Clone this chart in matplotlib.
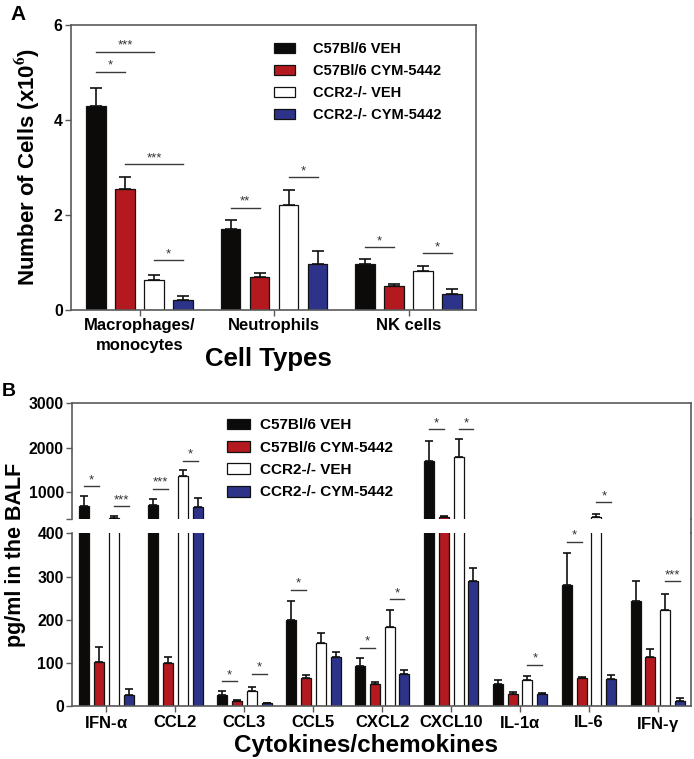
import numpy as np
import matplotlib.pyplot as plt
from matplotlib.patches import Patch
from matplotlib.lines import Line2D

plt.rcParams['font.family'] = ['Liberation Sans', 'DejaVu Sans']
plt.rcParams['font.weight'] = 'bold'
plt.rcParams['mathtext.fontset'] = 'stix'
plt.rcParams['mathtext.default'] = 'regular'

# groups / series
series = ['C57Bl/6 VEH', 'C57Bl/6 CYM-5442', 'CCR2-/- VEH', 'CCR2-/- CYM-5442']
colors = ['#0d0b09', '#b3191e', '#ffffff', '#2d3389']

# Panel A: cell counts (x10^6), mean and upper error
cell_types = ['Macrophages/\nmonocytes', 'Neutrophils', 'NK cells']
veh_a = [4.29, 1.71, 0.96]
cym_a = [2.55, 0.69, 0.50]
ccr2_veh_a = [0.63, 2.20, 0.83]
ccr2_cym_a = [0.22, 0.96, 0.34]
veh_a_err = [0.39, 0.18, 0.11]
cym_a_err = [0.26, 0.09, 0.05]
ccr2_veh_a_err = [0.11, 0.33, 0.09]
ccr2_cym_a_err = [0.07, 0.28, 0.10]

# significance for A: (group, bar i, bar j, height, label)
sig_a = [(0, 0, 1, 5.02, '*'), (0, 0, 2, 5.44, '***'), (0, 1, 3, 3.07, '***'),
         (0, 2, 3, 1.05, '*'), (1, 0, 1, 2.15, '**'), (1, 2, 3, 2.79, '*'),
         (2, 0, 1, 1.32, '*'), (2, 2, 3, 1.19, '*')]

# Panel B: cytokines pg/ml
cytokines = [r'IFN-$\alpha$', 'CCL2', 'CCL3', 'CCL5', 'CXCL2', 'CXCL10',
             r'IL-1$\alpha$', 'IL-6', r'IFN-$\gamma$']
veh_b = [689, 705, 27, 200, 93, 1705, 51, 281, 243]
cym_b = [103, 101, 11.5, 66, 51, 428, 28, 66, 115]
ccr2_veh_b = [424, 1359, 36, 147, 183, 1788, 61, 430, 223]
ccr2_cym_b = [26, 653, 7, 113, 75, 289, 29, 63, 12]
veh_b_err = [211, 135, 8, 44, 18, 451, 10, 74, 47]
cym_b_err = [35, 12, 2.5, 6, 5, 35, 5, 1.5, 17]
ccr2_veh_b_err = [25, 129, 8, 23, 40, 399, 9, 70, 36]
ccr2_cym_b_err = [13, 210, 1.5, 12, 10, 30, 2, 9, 6.5]

sig_b = [(0, 0, 1, 1133, '*'), (0, 2, 3, 682, '***'), (1, 0, 1, 1073, '***'),
         (1, 2, 3, 1705, '*'), (2, 0, 1, 58, '*'), (2, 2, 3, 75, '*'),
         (3, 0, 1, 270, '*'), (4, 0, 1, 135, '*'), (4, 2, 3, 248, '*'),
         (5, 0, 1, 2413, '*'), (5, 2, 3, 2420, '*'), (6, 2, 3, 96, '*'),
         (7, 0, 1, 381, '*'), (7, 2, 3, 766, '*'), (8, 2, 3, 289, '***')]

W, H = 694, 759
fig = plt.figure(figsize=(W / 100, H / 100), dpi=100)


def px_axes(x0, y0, x1, y1):
    return fig.add_axes([x0 / W, 1 - y1 / H, (x1 - x0) / W, (y1 - y0) / H])


spine_c = '#5a5a5a'
step = 0.2156
width = 0.145
offsets = (np.arange(4) - 1.5) * step


def style(ax):
    for s in ax.spines.values():
        s.set_color(spine_c)
        s.set_linewidth(1.2)
    ax.tick_params(direction='out', length=4, width=1, color=spine_c,
                   labelsize=11.3, pad=2)


def draw_bars(ax, means, errs, capsize):
    for i in range(4):
        x = np.arange(len(means[i])) + offsets[i]
        ax.bar(x, means[i], width, color=colors[i], edgecolor='#111111',
               linewidth=0.9, zorder=2)
        ax.errorbar(x, means[i], yerr=[np.zeros(len(errs[i])), errs[i]],
                    fmt='none', ecolor='#111111', elinewidth=1.2,
                    capsize=capsize, capthick=1.2, zorder=1)


def sig(ax, g, i, j, y, txt, fs):
    x1, x2 = g + offsets[i], g + offsets[j]
    ax.plot([x1, x2], [y, y], color='#3a3a3a', lw=1, zorder=3)
    ax.annotate(txt, ((x1 + x2) / 2, y), xytext=(0, 0),
                textcoords='offset points', ha='center', va='bottom',
                fontsize=fs, fontweight='normal', color='#333333')


def legend(ax, anchor, fs, textpad):
    handles = [Patch(facecolor=c, edgecolor='#111111', linewidth=0.9) for c in colors]
    ax.legend(handles, series, loc='upper left', bbox_to_anchor=anchor,
              frameon=False, fontsize=fs, handlelength=1.5, handleheight=0.72,
              handletextpad=textpad, labelspacing=0.55, borderaxespad=0, borderpad=0)


# ---------------- Panel A ----------------
axA = px_axes(71, 25, 476, 310)
style(axA)
draw_bars(axA, [veh_a, cym_a, ccr2_veh_a, ccr2_cym_a],
          [veh_a_err, cym_a_err, ccr2_veh_a_err, ccr2_cym_a_err], 4)
axA.set_xlim(-0.51, 2.5)
axA.set_ylim(0, 6)
axA.set_yticks([0, 2, 4, 6])
axA.set_xticks(range(3))
axA.set_xticklabels(cell_types, fontsize=12, linespacing=1.35)
for g, i, j, y, t in sig_a:
    sig(axA, g, i, j, y, t, 9.5)
legend(axA, (0.50, 0.94), 10.5, 1.2)
fig.text(27 / W, 1 - 167 / H, r'Number of Cells (x10$^{\mathbf{6}}$)', rotation=90,
         ha='center', va='center', fontsize=16)
fig.text(268 / W, 1 - 366 / H, 'Cell Types', ha='center', va='baseline', fontsize=18.5)
fig.text(18 / W, 1 - 15 / H, 'A', ha='center', va='center', fontsize=15)

# ---------------- Panel B (broken axis) ----------------
axT = px_axes(72, 403.3, 691, 518.6)
axB = px_axes(72, 533.3, 691, 706.3)
means_b = [veh_b, cym_b, ccr2_veh_b, ccr2_cym_b]
errs_b = [veh_b_err, cym_b_err, ccr2_veh_b_err, ccr2_cym_b_err]
for ax in (axT, axB):
    style(ax)
    draw_bars(ax, means_b, errs_b, 3)
    ax.set_xlim(-0.5, 8.48)
axT.set_ylim(400, 3000)
axB.set_ylim(0, 400)
axT.spines['bottom'].set_visible(False)
axB.spines['top'].set_visible(False)
axT.set_yticks([400, 1000, 2000, 3000])
axT.set_yticklabels(['', '1000', '2000', '3000'])
axT.set_xticks([])
axB.set_yticks([0, 100, 200, 300, 400])
axB.set_xticks(range(len(cytokines)))
axB.set_xticklabels(cytokines, fontsize=12)
for g, i, j, y, t in sig_b:
    sig(axT if y > 400 else axB, g, i, j, y, t, 9.5)
legend(axT, (0.25, 0.87), 11, 0.7)
# right edge continuous through the break
fig.add_artist(Line2D([691 / W, 691 / W], [1 - 518.6 / H, 1 - 533.3 / H],
                      color=spine_c, lw=1.2))
fig.text(15.5 / W, 1 - 555 / H, 'pg/ml in the BALF', rotation=90,
         ha='center', va='center', fontsize=15.5)
fig.text(366 / W, 1 - 752 / H, 'Cytokines/chemokines', ha='center', va='baseline',
         fontsize=17.5)
fig.text(9 / W, 1 - 391 / H, 'B', ha='center', va='center', fontsize=14)

fig.savefig('out.png', dpi=100)
